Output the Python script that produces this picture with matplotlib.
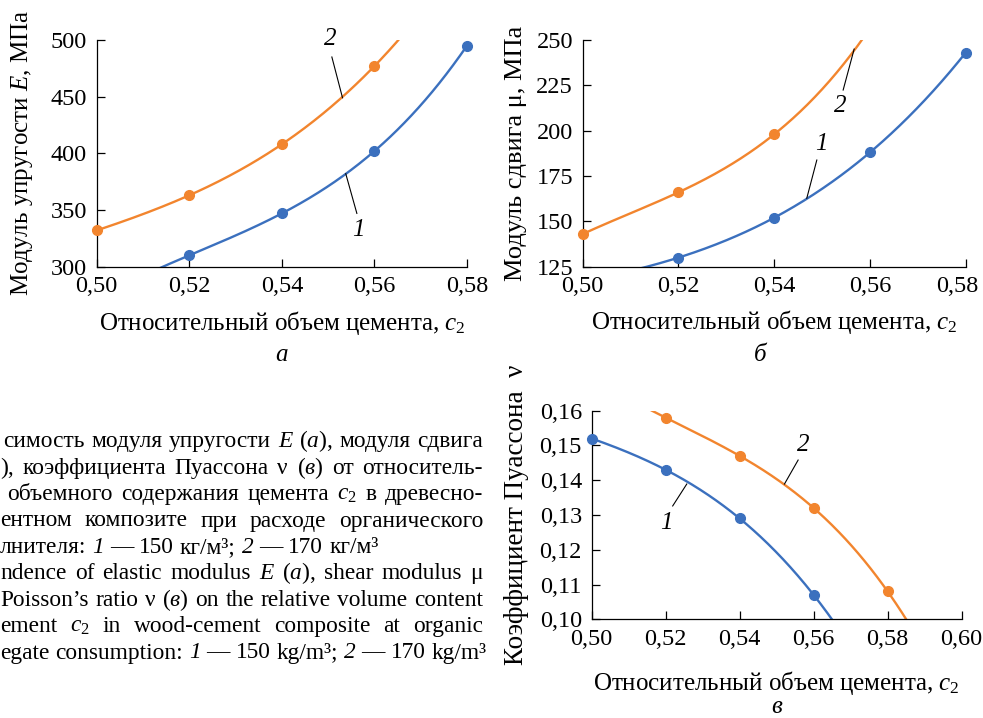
import matplotlib

matplotlib.use("Agg")
import matplotlib.pyplot as plt
import matplotlib.transforms as mtransforms
import numpy as np
from matplotlib.ticker import FuncFormatter, MultipleLocator

plt.rcParams.update(
    {
        "font.family": ["Liberation Serif", "DejaVu Serif"],
        "mathtext.fontset": "custom",
        "mathtext.rm": "Liberation Serif",
        "mathtext.it": "Liberation Serif:italic",
        "mathtext.bf": "Liberation Serif:bold",
        "axes.unicode_minus": False,
    }
)

BLUE = "#3b70be"
ORANGE = "#f2852e"
TICK_FS = 17.5
LABEL_FS = 18
CAPTION_FS = 16.8

# (а) modulus of elasticity E, MPa
c2_e_1 = [0.52, 0.54, 0.56, 0.58]
e_1 = [310, 347, 402, 495]
c2_e_2 = [0.50, 0.52, 0.54, 0.56]
e_2 = [332, 363, 408, 477]

# (б) shear modulus mu, MPa
c2_mu_1 = [0.52, 0.54, 0.56, 0.58]
mu_1 = [130, 152, 188, 243]
c2_mu_2 = [0.50, 0.52, 0.54]
mu_2 = [143, 166, 198]
# point where curve 2 leaves the top of panel б
mu_2_curve_end = (0.5583, 250)

# (в) Poisson's ratio nu
c2_nu_1 = [0.50, 0.52, 0.54, 0.56]
nu_1 = [0.152, 0.143, 0.129, 0.107]
c2_nu_2 = [0.52, 0.54, 0.56, 0.58]
nu_2 = [0.158, 0.147, 0.132, 0.108]

X_LABEL = "Относительный объем цемента, $c_{\\mathrm{2}}$"

# words starting with "~" are set in italic; (text, left edge px, justified)
CAPTION_LINES = [
    ("симость модуля упругости ~E ($a$), модуля сдвига", 3, True),
    ("), коэффициента Пуассона ν ($в$) от относитель-", 0, True),
    ("объемного содержания цемента $c_{\\mathrm{2}}$ в древесно-", 7, True),
    ("ентном композите при расходе органического", 0, True),
    ("лнителя: ~1 — 150 кг/м³; ~2 — 170 кг/м³", 0, False),
    ("ndence of elastic modulus ~E ($a$), shear modulus μ", 0, True),
    ("Poisson’s ratio ν ($в$) on the relative volume content", 0, True),
    ("ement $c_{\\mathrm{2}}$ in wood-cement composite at organic", 0, True),
    ("egate consumption: ~1 — 150 kg/m³; ~2 — 170 kg/m³", 0, False),
]
CAPTION_RIGHT = 483


def comma_fmt(digits, skip=None):
    def fmt(v, pos):
        if skip is not None and abs(v - skip) < 1e-9:
            return ""
        return f"{v:.{digits}f}".replace(".", ",")

    return FuncFormatter(fmt)


def style_axis(ax):
    for side in ("top", "right"):
        ax.spines[side].set_visible(False)
    for side in ("left", "bottom"):
        ax.spines[side].set_linewidth(0.9)
    ax.tick_params(direction="in", length=6, width=0.9, pad=7, labelsize=TICK_FS)


def draw_series(ax, xs, ys, color, span, knots=None):
    kx = list(xs)
    ky = list(ys)
    if knots is not None:
        kx.append(knots[0])
        ky.append(knots[1])
    coef = np.polyfit(kx, ky, len(kx) - 1)
    xx = np.linspace(span[0], span[1], 300)
    ax.plot(xx, np.polyval(coef, xx), color=color, lw=1.7, zorder=2)
    ax.plot(xs, ys, "o", color=color, ms=7, clip_on=False, zorder=3)


def curve_label(ax, text, pos, start, end):
    ax.text(pos[0], pos[1], text, fontsize=LABEL_FS, style="italic", ha="center", va="center")
    ax.plot([start[0], end[0]], [start[1], end[1]], color="black", lw=0.8, zorder=4)


def set_labels(ax, ylabel, ylab_x, xlab_y, ylab_fs=LABEL_FS):
    ax.set_ylabel(ylabel, fontsize=ylab_fs, va="center")
    ax.yaxis.set_label_coords(ylab_x, 0.5)
    ax.set_xlabel(X_LABEL, fontsize=LABEL_FS, va="center")
    ax.xaxis.set_label_coords(0.5, xlab_y)


fig = plt.figure(figsize=(9.83, 7.18), dpi=100)
W, H = 983.0, 718.0

# panel а
ax_a = fig.add_axes([0.0984, 0.6286, 0.3767, 0.3157])
draw_series(ax_a, c2_e_1, e_1, BLUE, (0.505, 0.58))
draw_series(ax_a, c2_e_2, e_2, ORANGE, (0.50, 0.575))
ax_a.set_xlim(0.50, 0.58)
ax_a.set_ylim(300, 500)
ax_a.xaxis.set_major_locator(MultipleLocator(0.02))
ax_a.yaxis.set_major_locator(MultipleLocator(50))
ax_a.xaxis.set_major_formatter(comma_fmt(2))
curve_label(ax_a, "2", (0.5504, 501), (0.5508, 485), (0.5531, 449))
curve_label(ax_a, "1", (0.5565, 332), (0.5562, 347), (0.5538, 382))
set_labels(ax_a, "Модуль упругости $E$, МПа", -0.2025, -0.248)
style_axis(ax_a)

# panel б
ax_b = fig.add_axes([0.5928, 0.6286, 0.3896, 0.3157])
draw_series(ax_b, c2_mu_1, mu_1, BLUE, (0.505, 0.58))
draw_series(ax_b, c2_mu_2, mu_2, ORANGE, (0.50, 0.565), knots=mu_2_curve_end)
ax_b.set_xlim(0.50, 0.58)
ax_b.set_ylim(125, 250)
ax_b.xaxis.set_major_locator(MultipleLocator(0.02))
ax_b.yaxis.set_major_locator(MultipleLocator(25))
# the last tick label sits a little to the left in the reference (page edge)
ax_b.xaxis.set_major_formatter(comma_fmt(2, skip=0.58))
shift = mtransforms.ScaledTranslation(-0.08, -7 / 72, fig.dpi_scale_trans)
ax_b.text(0.58, 0, "0,58", fontsize=TICK_FS, ha="center", va="top",
          transform=ax_b.get_xaxis_transform() + shift)
curve_label(ax_b, "2", (0.5537, 213.6), (0.5544, 222.4), (0.5567, 245))
curve_label(ax_b, "1", (0.5499, 192.7), (0.5489, 183.8), (0.5468, 162.7))
set_labels(ax_b, "Модуль сдвига μ, МПа", -0.174, -0.2426, ylab_fs=19)
style_axis(ax_b)

# panel в
ax_c = fig.add_axes([0.6019, 0.1375, 0.3764, 0.2905])
draw_series(ax_c, c2_nu_1, nu_1, BLUE, (0.50, 0.575))
draw_series(ax_c, c2_nu_2, nu_2, ORANGE, (0.51, 0.595))
ax_c.set_xlim(0.50, 0.60)
ax_c.set_ylim(0.10, 0.16)
ax_c.xaxis.set_major_locator(MultipleLocator(0.02))
ax_c.yaxis.set_major_locator(MultipleLocator(0.01))
ax_c.xaxis.set_major_formatter(comma_fmt(2))
ax_c.yaxis.set_major_formatter(comma_fmt(2))
curve_label(ax_c, "2", (0.5572, 0.1501), (0.5558, 0.1458), (0.5521, 0.1389))
curve_label(ax_c, "1", (0.5203, 0.1276), (0.5219, 0.1326), (0.5257, 0.1389))
set_labels(ax_c, "Коэффициент Пуассона  ν", -0.2027, -0.3068, ylab_fs=19.5)
style_axis(ax_c)

# panel letters
for letter, (px, py) in [("а", (281.7, 355)), ("б", (760, 355)), ("в", (776.7, 707))]:
    fig.text(px / W, 1 - py / H, letter, fontsize=LABEL_FS, style="italic", ha="center", va="center")

# cropped, justified caption on the left
renderer = fig.canvas.get_renderer()
probe_wide = fig.text(0, 0, "a a", fontsize=CAPTION_FS)
probe_tight = fig.text(0, 0, "aa", fontsize=CAPTION_FS)
space_w = probe_wide.get_window_extent(renderer).width - probe_tight.get_window_extent(renderer).width
probe_wide.remove()
probe_tight.remove()

for i, (line, left, justified) in enumerate(CAPTION_LINES):
    y = 1 - (447.3 + 26.4 * i) / H
    words = []
    for w in line.split(" "):
        italic = w.startswith("~")
        t = fig.text(0, y, w.lstrip("~"), fontsize=CAPTION_FS, ha="left", va="baseline",
                     style="italic" if italic else "normal")
        words.append(t)
    widths = [t.get_window_extent(renderer).width for t in words]
    if justified and len(words) > 1:
        gap = (CAPTION_RIGHT - left - sum(widths)) / (len(words) - 1)
    else:
        gap = space_w
    x = left
    for t, w in zip(words, widths):
        t.set_x(x / W)
        x += w + gap

fig.savefig("out.png", dpi=100)
